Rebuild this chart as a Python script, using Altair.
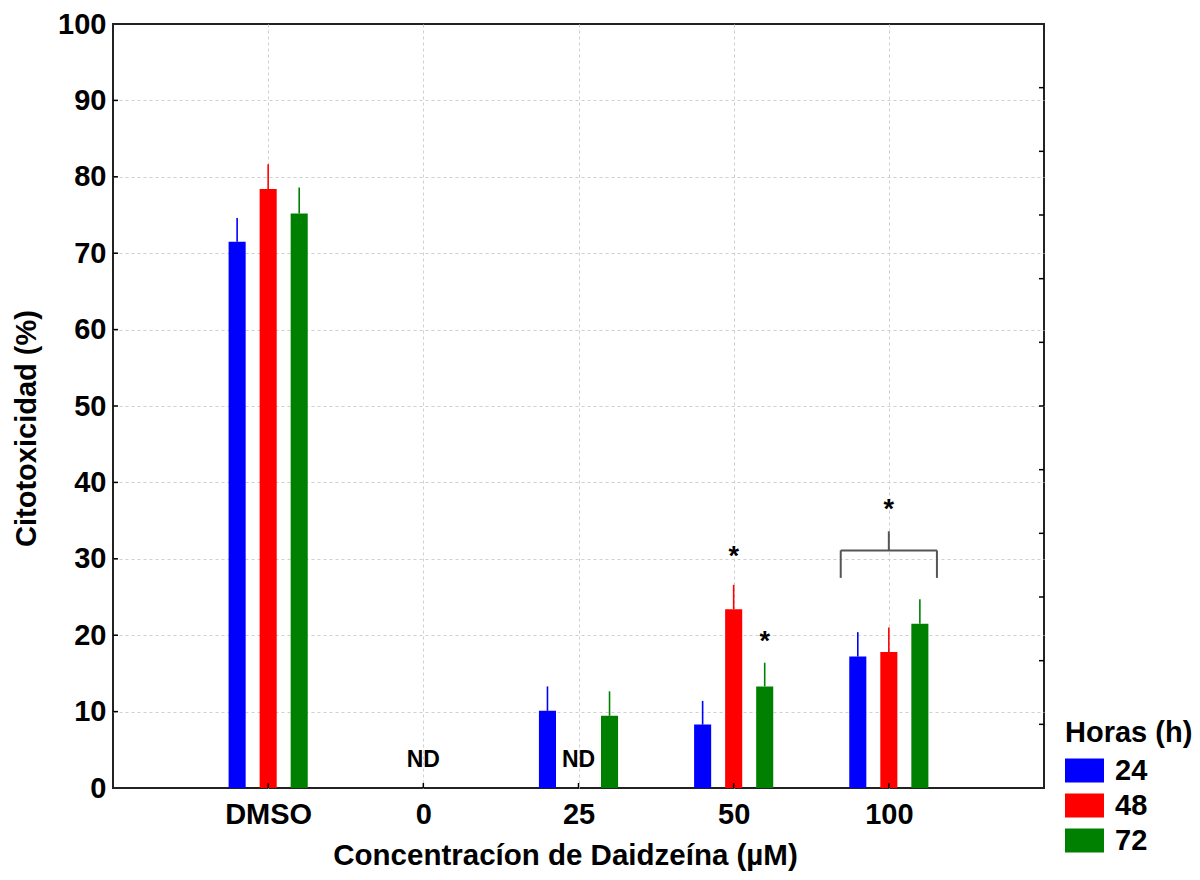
import altair as alt
import pandas as pd

# ---------------- data ----------------
categories = ["DMSO", "0", "25", "50", "100"]
series = ["24", "48", "72"]
colors = ["#0000ff", "#ff0000", "#008000"]

# None = ND (not detected)
values_24 = [71.5, None, 10.1, 8.3, 17.2]
values_48 = [78.4, None, None, 23.4, 17.8]
values_72 = [75.2, None, 9.45, 13.3, 21.5]
errors_24 = [3.1, None, 3.2, 3.1, 3.2]
errors_48 = [3.25, None, None, 3.2, 3.2]
errors_72 = [3.4, None, 3.2, 3.1, 3.2]

# annotations
nd_labels = ["ND", "ND"]
nd_pos = [2.0, 3.0]
nd_y = [3.7, 3.7]

star_pos = [4.0, 4.2, 5.0]
star_y = [30.9, 19.8, 37.1]

bracket_x = [4.69, 4.69, 5.31, 5.0]
bracket_x2 = [5.31, 4.69, 5.31, 5.0]
bracket_y = [31.1, 27.5, 27.5, 31.1]
bracket_y2 = [31.1, 31.1, 31.1, 33.6]

# axis tick values
x_ticks = [1, 2, 3, 4, 5]
y_ticks = [0, 10, 20, 30, 40, 50, 60, 70, 80, 90, 100]
y_right_ticks = [100 * k / 12 for k in range(1, 12)]

series_offset = [-0.2, 0.0, 0.2]
half_bar = 0.055

# ---------------- tables ----------------
rows = []
for s, off, vals, errs in zip(series, series_offset,
                              [values_24, values_48, values_72],
                              [errors_24, errors_48, errors_72]):
    for i, (v, e) in enumerate(zip(vals, errs)):
        if v is None:
            continue
        c = i + 1 + off
        rows.append({"serie": s, "cat": categories[i], "xc": c,
                     "x0": c - half_bar, "x1": c + half_bar,
                     "val": v, "top": v + e})
bars_df = pd.DataFrame(rows)
nd_df = pd.DataFrame({"x": nd_pos, "y": nd_y, "t": nd_labels})
star_df = pd.DataFrame({"x": star_pos, "y": star_y, "t": ["*"] * len(star_pos)})
br_df = pd.DataFrame({"x": bracket_x, "x2": bracket_x2,
                      "y": bracket_y, "y2": bracket_y2})
xt_df = pd.DataFrame({"v": x_ticks})
yt_df = pd.DataFrame({"v": y_ticks[1:-1]})
yrt_df = pd.DataFrame({"v": y_right_ticks})

FONT = "Liberation Sans"
FS = 29
W, H = 931, 764

label_expr = "['', 'DMSO', '0', '25', '50', '100', ''][datum.value]"

xscale = alt.Scale(domain=[0, 6], nice=False, zero=False)
yscale = alt.Scale(domain=[0, 100], nice=False)

color = alt.Color(
    "serie:N",
    scale=alt.Scale(domain=series, range=colors),
    legend=alt.Legend(
        title="Horas (h)", orient="none", legendX=950, legendY=693,
        titleFontSize=FS, titleFont=FONT, titleFontWeight="bold",
        titleColor="black", titlePadding=3,
        labelFontSize=FS, labelFont=FONT, labelFontWeight="bold",
        labelColor="black", labelOffset=11,
        symbolType="M-1,-0.62L1,-0.62L1,0.62L-1,0.62Z",
        symbolSize=1521, symbolStrokeWidth=0, symbolOpacity=1,
        rowPadding=-3, offset=0, padding=2,
    ),
)

grid_opacity = {"condition": {"test": "datum.value === 0 || datum.value === 100 || datum.value === 6",
                              "value": 0}, "value": 1}

x_axis = alt.Axis(
    values=x_ticks, labelExpr=label_expr,
    title="Concentracíon de Daidzeína (µM)",
    titleFontSize=FS + 0.5, titleFont=FONT, titleFontWeight="bold", titleColor="black",
    titleX=452, titleY=67, titleBaseline="middle", titleAlign="center",
    labelFontSize=FS, labelFont=FONT, labelFontWeight="bold", labelColor="black",
    labelPadding=12, ticks=False, tickSize=0,
    domain=False, grid=True, gridColor="#cfcfcf", gridDash=[3, 3], gridWidth=1,
)
y_axis = alt.Axis(
    values=y_ticks,
    title="Citotoxicidad (%)",
    titleFontSize=FS, titleFont=FONT, titleFontWeight="bold", titleColor="black",
    titleX=-87, titleY=404, titleBaseline="middle", titleAlign="center", titleAngle=-90,
    labelFontSize=FS, labelFont=FONT, labelFontWeight="bold", labelColor="black",
    labelPadding=7, ticks=False, tickSize=0,
    domain=False, grid=True, gridColor="#cfcfcf", gridDash=[3, 3], gridWidth=1,
    gridOpacity=grid_opacity,
)

bars = alt.Chart(bars_df).mark_bar(stroke=None).encode(
    x=alt.X("x0:Q", scale=xscale, axis=x_axis),
    x2="x1:Q",
    y=alt.Y("val:Q", scale=yscale, axis=y_axis),
    y2=alt.datum(0),
    color=color,
)

err = alt.Chart(bars_df).mark_rule(strokeWidth=1.6).encode(
    x=alt.X("xc:Q", scale=xscale, axis=None),
    y=alt.Y("val:Q", scale=yscale, axis=None),
    y2="top:Q",
    color=alt.Color("serie:N", scale=alt.Scale(domain=series, range=colors), legend=None),
)

nd = alt.Chart(nd_df).mark_text(font=FONT, fontWeight="bold", fontSize=23,
                                color="black", baseline="middle").encode(
    x=alt.X("x:Q", scale=xscale, axis=None),
    y=alt.Y("y:Q", scale=yscale, axis=None),
    text="t:N",
)

stars = alt.Chart(star_df).mark_text(font=FONT, fontWeight="bold", fontSize=27,
                                     color="black", baseline="middle", dy=5).encode(
    x=alt.X("x:Q", scale=xscale, axis=None),
    y=alt.Y("y:Q", scale=yscale, axis=None),
    text="t:N",
)

bracket = alt.Chart(br_df).mark_rule(color="#555555", strokeWidth=2).encode(
    x=alt.X("x:Q", scale=xscale, axis=None),
    x2="x2:Q",
    y=alt.Y("y:Q", scale=yscale, axis=None),
    y2="y2:Q",
)

# inward tick marks on the frame
tick_kw = dict(color="black", strokeWidth=1.5)
left_ticks = alt.Chart(yt_df).mark_rule(x2Offset=5, **tick_kw).encode(
    x=alt.XDatum(0, scale=xscale, axis=None), x2=alt.X2Datum(0),
    y=alt.Y("v:Q", scale=yscale, axis=None),
)
right_ticks = alt.Chart(yrt_df).mark_rule(x2Offset=-5, **tick_kw).encode(
    x=alt.XDatum(6, scale=xscale, axis=None), x2=alt.X2Datum(6),
    y=alt.Y("v:Q", scale=yscale, axis=None),
)
bottom_ticks = alt.Chart(xt_df).mark_rule(y2Offset=-5, **tick_kw).encode(
    x=alt.X("v:Q", scale=xscale, axis=None),
    y=alt.YDatum(0, scale=yscale, axis=None), y2=alt.Y2Datum(0),
)

chart = alt.layer(
    bars, err, nd, stars, bracket, left_ticks, right_ticks, bottom_ticks
).resolve_axis(
    x="independent", y="independent"
).properties(
    width=W, height=H,
    autosize=alt.AutoSizeParams(type="none"),
    padding={"left": 113, "top": 24, "right": 156, "bottom": 92},
).configure_view(
    stroke="#222222", strokeWidth=2
)

chart.save("out.html", embed_options={"renderer": "svg", "actions": False})
